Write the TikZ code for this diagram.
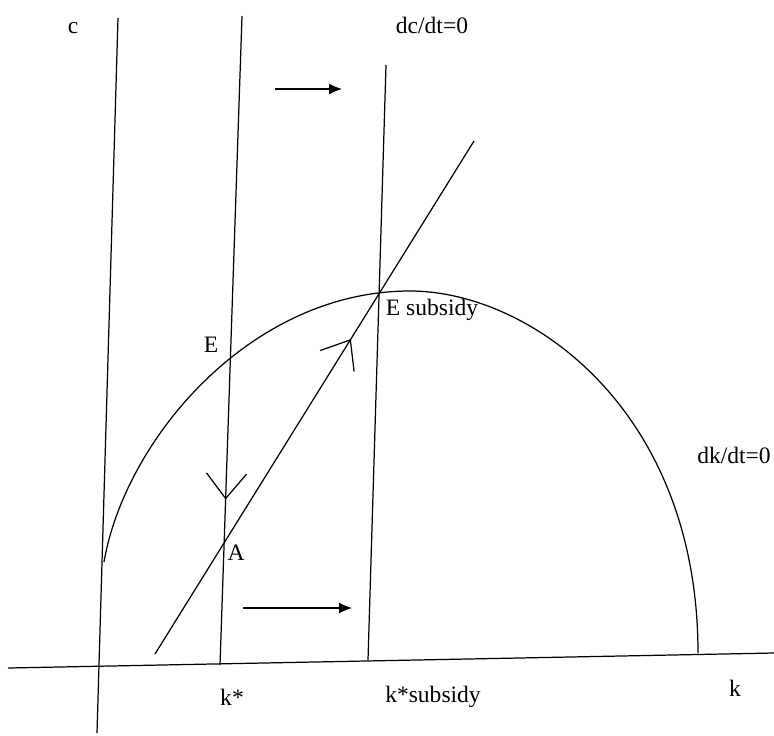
\documentclass[tikz,border=0pt]{standalone}
\usepackage{fontspec}
\setmainfont{Liberation Serif}
\usetikzlibrary{arrows.meta, decorations.markings}

\begin{document}
\begin{tikzpicture}[x=0.02cm, y=-0.02cm, line width=0.7pt,
  lbl/.style={font=\fontsize{13.4}{16}\selectfont, inner sep=0pt},
  flow/.style={-{Latex[length=2.6mm, width=2.2mm]}},
  midbarb/.style={postaction={decorate}, decoration={markings,
    mark=at position #1 with {\arrow{Straight Barb[length=5mm, width=8mm, line width=0.7pt]}}}}]
  \useasboundingbox (0,0) rectangle (774,735);
  % axes
  \coordinate (kleft) at (8,668);
  \coordinate (kright) at (774,653);
  \coordinate (ctop) at (118,18);
  \coordinate (cbot) at (97,733);
  \draw (kleft) -- (kright);
  \draw (ctop) -- (cbot);
  % dc/dt=0 lines
  \coordinate (kstop) at (242,16);
  \coordinate (ksbot) at (220,665);
  \coordinate (subtop) at (386,65);
  \coordinate (subbot) at (368,660);
  \draw[midbarb=0.745] (kstop) -- (ksbot);
  \draw (subtop) -- (subbot);
  % dk/dt=0 curve
  \coordinate (arcleft) at (104,562);
  \coordinate (arctop) at (410,291);
  \coordinate (arcright) at (698,653);
  \draw (arcleft) .. controls (125,440) and (250,291) .. (arctop)
    .. controls (530,291) and (698,410) .. (arcright);
  % saddle path
  \coordinate (sbot) at (155,654);
  \coordinate (stop) at (474,141);
  \draw[midbarb=0.614] (sbot) -- (stop);
  % shift arrows
  \coordinate (up1) at (275,89);
  \coordinate (up2) at (342,89);
  \coordinate (lo1) at (243,608);
  \coordinate (lo2) at (352,608);
  \draw[flow] (up1) -- (up2);
  \draw[flow] (lo1) -- (lo2);
  % labels
  \node[lbl] (c) at (73,28) {c};
  \node[lbl] (dcdt) at (432,25) {dc/dt=0};
  \node[lbl] (E) at (211,345) {E};
  \node[lbl] (Esub) at (432,310) {E subsidy};
  \node[lbl] (A) at (236,553) {A};
  \node[lbl] (dkdt) at (734,455) {dk/dt=0};
  \node[lbl] (kstar) at (232,697) {k*};
  \node[lbl] (ksub) at (433,697) {k*subsidy};
  \node[lbl] (k) at (735,688) {k};
\end{tikzpicture}
\end{document}
